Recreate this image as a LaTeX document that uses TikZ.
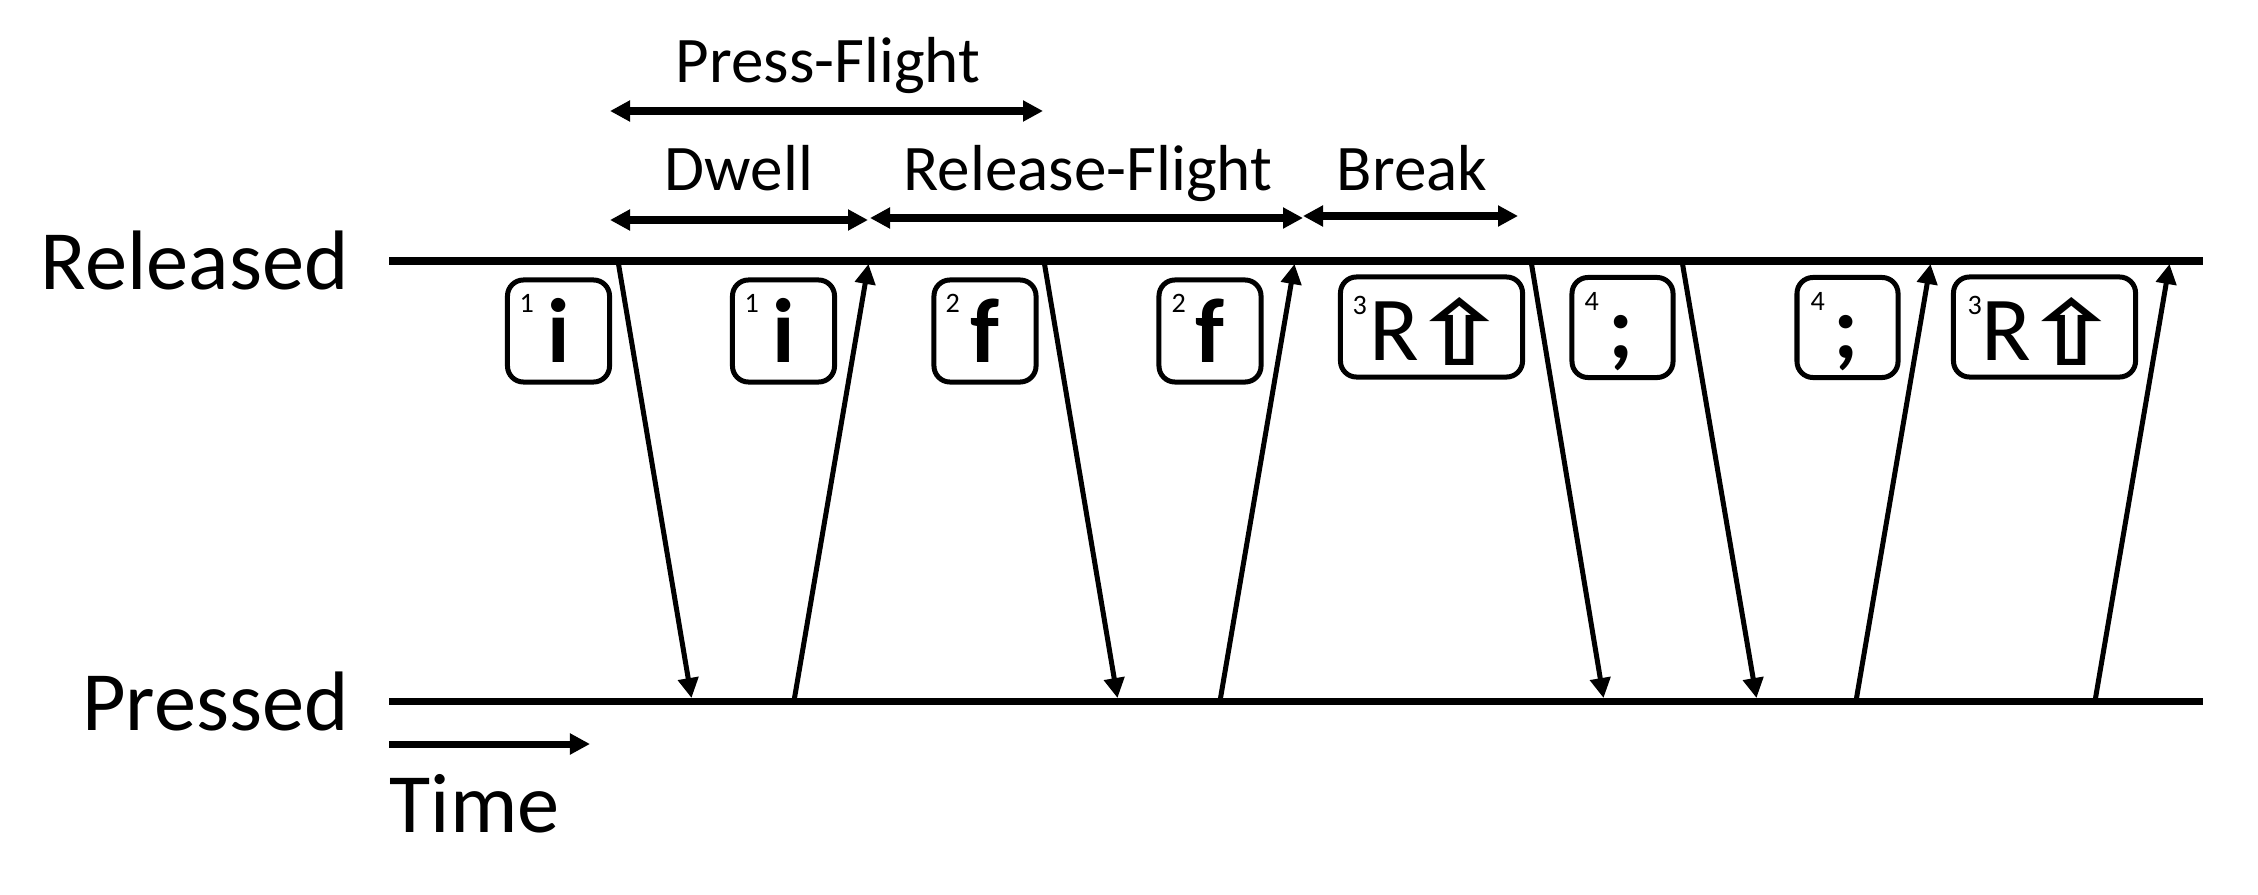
\documentclass[tikz,border=0pt]{standalone}
\usepackage{fontspec}
\setmainfont{Carlito}
\newfontfamily\symfont{DejaVu Sans}
\usetikzlibrary{arrows.meta}
\begin{document}
\begin{tikzpicture}[x=0.01cm,y=-0.01cm,
  mainline/.style={line width=0.07cm},
  span/.style={line width=0.07cm,{Triangle[length=0.2cm,width=0.2cm]}-{Triangle[length=0.2cm,width=0.2cm]}},
  timearrow/.style={line width=0.07cm,-{Triangle[length=0.2cm,width=0.2cm]}},
  keystroke/.style={line width=0.05cm,-{Triangle[length=0.2cm,width=0.2cm]},shorten >=0.03cm},
  keybox/.style={draw,line width=0.05cm,rounded corners=0.16cm,inner sep=0pt,minimum height=1.02cm,minimum width=1.02cm},
  widebox/.style={keybox,minimum width=1.82cm,minimum height=1.0cm},
  glyph/.style={inner sep=0pt,anchor=base,font=\fontsize{26}{30}\selectfont},
  sup/.style={inner sep=0pt,anchor=north west,font=\fontsize{8}{9}\selectfont},
  biglabel/.style={inner sep=0pt,font=\fontsize{24}{28}\selectfont},
  spanlabel/.style={inner sep=0pt,anchor=base,font=\fontsize{18.5}{22}\selectfont}
]
\useasboundingbox (0,0) rectangle (2258,894);
\newcommand{\shiftkey}{\hspace{0.18cm}\makebox[0.45cm]{\raisebox{-0.05cm}{\scalebox{1.25}[1]{\resizebox{!}{0.68cm}{\symfont\bfseries ⇧}}}}}

% state lines
\coordinate (relL) at (389,261);
\coordinate (relR) at (2203,261);
\coordinate (preL) at (389,701);
\coordinate (preR) at (2203,701);
\draw[mainline] (relL) -- (relR);
\draw[mainline] (preL) -- (preR);

\node[biglabel,anchor=base east] (rel) at (349,289) {Released};
\node[biglabel,anchor=base east] (pre) at (349,730) {Pressed};

% time arrow
\coordinate (tA) at (389,744);
\coordinate (tB) at (590,744);
\draw[timearrow] (tA) -- (tB);
\node[biglabel,anchor=base west] (time) at (389,832) {Time};

% interval arrows
\coordinate (pfA) at (610,111);
\coordinate (pfB) at (1043,111);
\coordinate (dwA) at (610,220);
\coordinate (dwB) at (868,220);
\coordinate (rfA) at (870,218);
\coordinate (rfB) at (1303,218);
\coordinate (brA) at (1303,216);
\coordinate (brB) at (1518,216);
\draw[span] (pfA) -- (pfB);
\draw[span] (dwA) -- (dwB);
\draw[span] (rfA) -- (rfB);
\draw[span] (brA) -- (brB);
\node[spanlabel] (pfl) at (828,83) {Press-Flight};
\node[spanlabel] (dwl) at (739,190) {Dwell};
\node[spanlabel] (rfl) at (1088,190) {Release-Flight};
\node[spanlabel] (brl) at (1412,190) {Break};

% key boxes
\node[keybox] (k1) at (558.5,331) {};
\node[keybox] (k2) at (783.5,331) {};
\node[keybox] (k3) at (985,331) {};
\node[keybox] (k4) at (1210,331) {};
\node[widebox] (k5) at (1431.5,327) {};
\node[keybox,minimum width=1.01cm,minimum height=1.0cm] (k6) at (1622.5,327.5) {};
\node[keybox,minimum width=1.01cm,minimum height=1.0cm] (k7) at (1847.5,327.5) {};
\node[widebox] (k8) at (2044.5,327) {};

\node[glyph] (g1) at (558.5,362) {\bfseries i};
\node[glyph] (g2) at (783.5,362) {\bfseries i};
\node[glyph] (g3) at (985,362) {\bfseries f};
\node[glyph] (g4) at (1210,362) {\bfseries f};
\node[glyph] (g5) at (1426,360) {R\shiftkey};
\node[glyph] (g6) at (1621,358) {\bfseries ;};
\node[glyph] (g7) at (1846,358) {\bfseries ;};
\node[glyph] (g8) at (2038,360) {R\shiftkey};

\node[sup] (s1) at (519,294) {1};
\node[sup] (s2) at (744,294) {1};
\node[sup] (s3) at (945,294) {2};
\node[sup] (s4) at (1171,294) {2};
\node[sup] (s5) at (1352,296) {3};
\node[sup] (s6) at (1584,292) {4};
\node[sup] (s7) at (1810,292) {4};
\node[sup] (s8) at (1967,296) {3};

% key transitions
\coordinate (t1) at (618,261);  \coordinate (b1) at (692,701);
\coordinate (t2) at (869,261);  \coordinate (b2) at (794,701);
\coordinate (t3) at (1044,261); \coordinate (b3) at (1118,701);
\coordinate (t4) at (1295,261); \coordinate (b4) at (1220,701);
\coordinate (t5) at (1531,261); \coordinate (b5) at (1604,701);
\coordinate (t6) at (1682,261); \coordinate (b6) at (1757,701);
\coordinate (t7) at (1931,261); \coordinate (b7) at (1856,701);
\coordinate (t8) at (2170,261); \coordinate (b8) at (2095,701);
\draw[keystroke] (t1) -- (b1);
\draw[keystroke] (b2) -- (t2);
\draw[keystroke] (t3) -- (b3);
\draw[keystroke] (b4) -- (t4);
\draw[keystroke] (t5) -- (b5);
\draw[keystroke] (t6) -- (b6);
\draw[keystroke] (b7) -- (t7);
\draw[keystroke] (b8) -- (t8);
\end{tikzpicture}
\end{document}
